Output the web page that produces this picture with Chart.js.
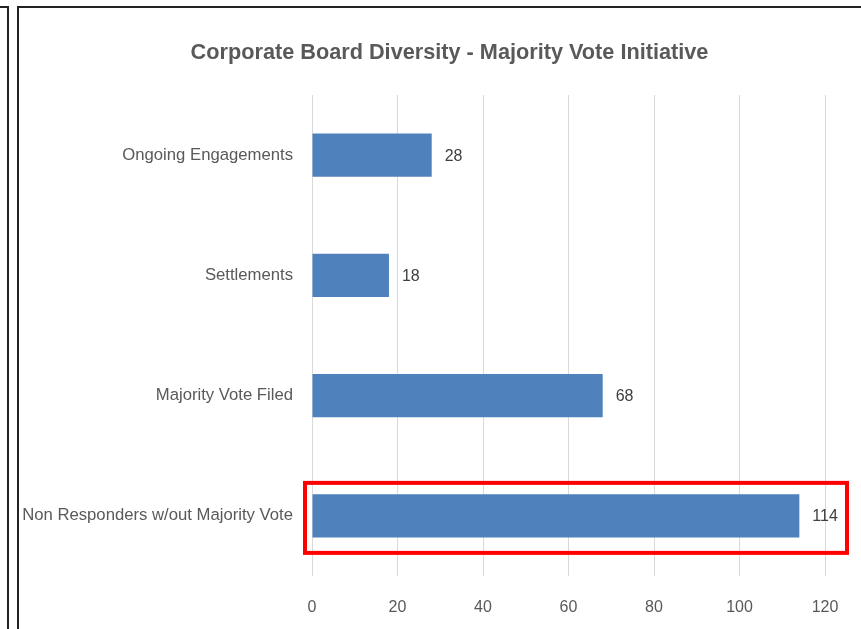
<!DOCTYPE html>
<html>
<head>
<meta charset="utf-8">
<script src="https://cdn.jsdelivr.net/npm/chart.js@4.4.1/dist/chart.umd.min.js"></script>
<style>
  html, body { margin: 0; padding: 0; background: #fff; }
  #wrap { position: relative; width: 861px; height: 629px; overflow: hidden; }
  /* panel borders from the screenshot */
  #leftPanel { position: absolute; left: -3px; top: 6px; width: 8px; height: 640px; border: 2px solid #222; }
  #frame { position: absolute; left: 17px; top: 6px; width: 860px; height: 640px; border: 2px solid #222; }
  canvas { position: absolute; left: 0; top: 0; }
</style>
</head>
<body>
<div id="wrap">
  <div id="leftPanel"></div>
  <div id="frame"></div>
  <canvas id="chart" width="861" height="629"></canvas>
</div>
<script>
// chart data
const categories = ["Ongoing Engagements", "Settlements", "Majority Vote Filed", "Non Responders w/out Majority Vote"];
const values = [28, 18, 68, 114];
const tickValues = [0, 20, 40, 60, 80, 100, 120];
const highlightIndex = 3; // red box round this bar

const fontFamily = 'Arial, "Liberation Sans", sans-serif';

// let the long category label run past the padded edge (no clipping)
const widenYAxis = {
  id: "widenYAxis",
  afterLayout(chart) {
    chart.scales.y.left = 0;
  },
};

// value labels at the end of each bar
const valueLabels = {
  id: "valueLabels",
  afterDatasetsDraw(chart) {
    const ctx = chart.ctx;
    const meta = chart.getDatasetMeta(0);
    ctx.save();
    ctx.font = "16px " + fontFamily;
    ctx.fillStyle = "#404040";
    ctx.textAlign = "left";
    ctx.textBaseline = "middle";
    meta.data.forEach((bar, i) => {
      ctx.fillText(values[i], bar.x + 13, bar.y + 1);
    });
    ctx.restore();
  },
};

// red highlight rectangle
const highlightBox = {
  id: "highlightBox",
  afterDraw(chart) {
    const bar = chart.getDatasetMeta(0).data[highlightIndex];
    const area = chart.chartArea;
    const ctx = chart.ctx;
    ctx.save();
    ctx.strokeStyle = "#ff0000";
    ctx.lineWidth = 4;
    ctx.strokeRect(area.left - 7, bar.y - 33, area.right - area.left + 29, 70);
    ctx.restore();
  },
};

new Chart(document.getElementById("chart").getContext("2d"), {
  type: "bar",
  data: {
    labels: categories,
    datasets: [
      {
        data: values,
        backgroundColor: "#4f81bd",
        borderWidth: 0,
        categoryPercentage: 1,
        barPercentage: 0.36,
      },
    ],
  },
  options: {
    indexAxis: "y",
    responsive: false,
    animation: false,
    layout: { padding: { left: 74, right: 36, top: 0, bottom: 0 } },
    plugins: {
      legend: { display: false },
      tooltip: { enabled: false },
      title: {
        display: true,
        text: "Corporate Board Diversity - Majority Vote Initiative",
        color: "#595959",
        font: { family: fontFamily, size: 21.7, weight: "bold", lineHeight: 1.2 },
        padding: { top: 40, bottom: 29 },
      },
    },
    scales: {
      x: {
        min: 0,
        max: 120,
        afterBuildTicks(scale) {
          scale.ticks = tickValues.map((v) => ({ value: v }));
        },
        afterFit(scale) {
          scale.height = 53;
        },
        grid: { color: "#d9d9d9", lineWidth: 1, drawTicks: false },
        border: { display: false },
        ticks: {
          color: "#595959",
          font: { family: fontFamily, size: 16 },
          padding: 22,
        },
      },
      y: {
        afterFit(scale) {
          scale.width = 312 - 74;
        },
        grid: { display: false, drawTicks: false },
        border: { display: false },
        ticks: {
          color: "#595959",
          font: { family: fontFamily, size: 16.7 },
          padding: 19,
        },
      },
    },
  },
  plugins: [widenYAxis, valueLabels, highlightBox],
});
</script>
</body>
</html>
